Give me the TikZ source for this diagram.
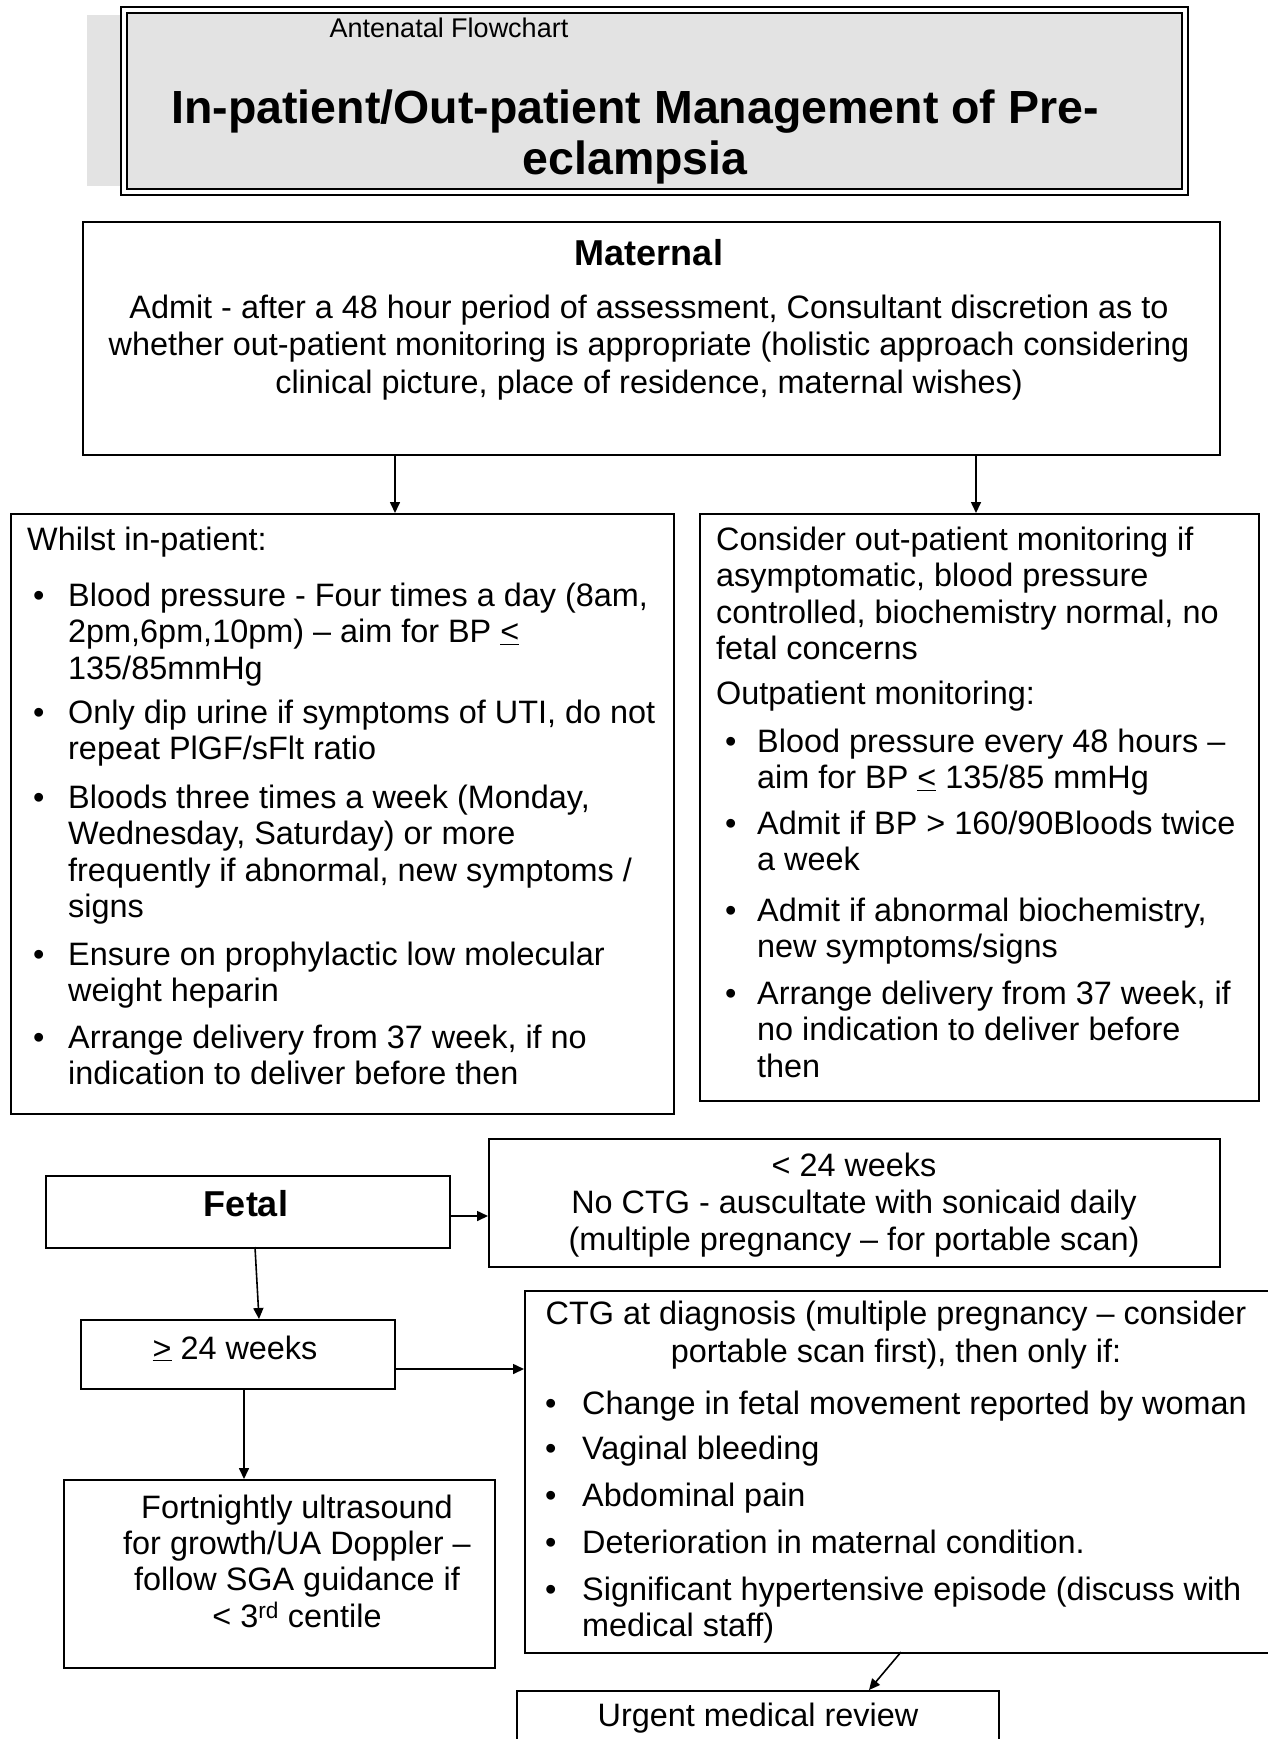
\documentclass[tikz,border=0pt]{standalone}
\usepackage{fontspec}
\setmainfont{Liberation Sans}
\usetikzlibrary{arrows.meta}
\newcommand\bodyfs{\fontsize{32.4}{36.5}\selectfont}
\newcommand\headfs{\fontsize{36}{40}\bfseries\selectfont}
\definecolor{titlegray}{HTML}{E3E3E3}
\tikzset{
  boxnode/.style={draw, line width=1.6pt, inner sep=0pt, anchor=north west, fill=white},
  txt/.style={inner sep=0pt, anchor=north west, align=left, font=\bodyfs},
  ctxt/.style={inner sep=0pt, anchor=north, align=center, font=\bodyfs},
  bul/.style={inner sep=0pt, anchor=north west, font=\bodyfs},
  arr/.style={line width=1.6pt, -{Triangle[length=11pt,width=10pt]}},
}
\begin{document}
\begin{tikzpicture}[x=1pt,y=-1pt]
\useasboundingbox (0,0) rectangle (1268,1739);
\clip (0,0) rectangle (1268,1739);
\fill[white] (0,0) rectangle (1268,1739);
% title block
\fill[titlegray] (87,15) rectangle (125,186);
\node[draw, line width=2pt, fill=white, inner sep=0pt, anchor=north west, minimum width=1067pt, minimum height=188pt] (title) at (120,6) {};
\node[draw, line width=1.6pt, fill=titlegray, inner sep=0pt, minimum width=1055pt, minimum height=176pt] (titlein) at (title.center) {};
\node[inner sep=0pt, anchor=base, font=\fontsize{27}{30}\selectfont] (tsub) at (449,38) {Antenatal Flowchart};
\node[inner sep=0pt, anchor=north, align=center, font=\fontsize{46.5}{51}\bfseries\selectfont] (tmain) at (635,88) {\strut In-patient/Out-patient Management of Pre-\\eclampsia};
% maternal
\node[boxnode, minimum width=1137pt, minimum height=233pt] (maternal) at (82,221) {};
\node[inner sep=0pt, anchor=base, font=\headfs] (mathead) at (649,265) {Maternal};
\node[ctxt, font=\fontsize{32.4}{37.5}\selectfont] (matbody) at (649,292) {\strut Admit - after a 48 hour period of assessment, Consultant discretion as to\\whether out-patient monitoring is appropriate (holistic approach considering\\clinical picture, place of residence, maternal wishes)};
% in-patient
\node[boxnode, minimum width=663pt, minimum height=600pt] (inpat) at (10,513) {};
\node[txt] (in0) at (27,524.5) {\strut Whilst in-patient:};
\node[bul] (inb1) at (33,580.5) {\strut\textbullet};
\node[txt] (in1) at (68,580.5) {\strut Blood pressure - Four times a day (8am,\\2pm,6pm,10pm) -- aim for BP \underline{<}\\135/85mmHg};
\node[bul] (inb2) at (33,697.5) {\strut\textbullet};
\node[txt] (in2) at (68,697.5) {\strut Only dip urine if symptoms of UTI, do not\\repeat PlGF/sFlt ratio};
\node[bul] (inb3) at (33,782.5) {\strut\textbullet};
\node[txt] (in3) at (68,782.5) {\strut Bloods three times a week (Monday,\\Wednesday, Saturday) or more\\frequently if abnormal, new symptoms /\\signs};
\node[bul] (inb4) at (33,939.5) {\strut\textbullet};
\node[txt] (in4) at (68,939.5) {\strut Ensure on prophylactic low molecular\\weight heparin};
\node[bul] (inb5) at (33,1022.5) {\strut\textbullet};
\node[txt] (in5) at (68,1022.5) {\strut Arrange delivery from 37 week, if no\\indication to deliver before then};
% out-patient
\node[boxnode, minimum width=559pt, minimum height=587pt] (outpat) at (699,513) {};
\node[txt] (out0) at (716,524.5) {\strut Consider out-patient monitoring if\\asymptomatic, blood pressure\\controlled, biochemistry normal, no\\fetal concerns};
\node[txt] (out00) at (716,678.5) {\strut Outpatient monitoring:};
\node[bul] (outb1) at (725,726.5) {\strut\textbullet};
\node[txt] (out1) at (757,726.5) {\strut Blood pressure every 48 hours --\\aim for BP \underline{<} 135/85 mmHg};
\node[bul] (outb2) at (725,808.5) {\strut\textbullet};
\node[txt] (out2) at (757,808.5) {\strut Admit if BP > 160/90Bloods twice\\a week};
\node[bul] (outb3) at (725,895.5) {\strut\textbullet};
\node[txt] (out3) at (757,895.5) {\strut Admit if abnormal biochemistry,\\new symptoms/signs};
\node[bul] (outb4) at (725,978.5) {\strut\textbullet};
\node[txt] (out4) at (757,978.5) {\strut Arrange delivery from 37 week, if\\no indication to deliver before\\then};
% fetal
\node[boxnode, minimum width=404pt, minimum height=72pt] (fetal) at (45,1175) {};
\node[inner sep=0pt, anchor=base, font=\headfs] (fetaltxt) at (246,1216) {Fetal};
\node[boxnode, minimum width=731pt, minimum height=128pt] (lt24) at (488,1138) {};
\node[ctxt, font=\fontsize{32.4}{37}\selectfont] (lt24txt) at (854,1150.5) {\strut < 24 weeks\\No CTG - auscultate with sonicaid daily\\(multiple pregnancy -- for portable scan)};
\node[boxnode, minimum width=314pt, minimum height=69pt] (ge24) at (80,1319) {};
\node[inner sep=0pt, anchor=base, font=\bodyfs] (ge24txt) at (235,1359) {\underline{>} 24 weeks};
\node[boxnode, minimum width=766pt, minimum height=362pt] (ctg) at (524,1290) {};
\node[ctxt, font=\fontsize{32.4}{38}\selectfont] (ctg0) at (896,1297.5) {\strut CTG at diagnosis (multiple pregnancy -- consider\\portable scan first), then only if:};
\node[bul] (ctgb1) at (545,1388.5) {\strut\textbullet};
\node[txt] (ctg1) at (582,1388.5) {\strut Change in fetal movement reported by woman};
\node[bul] (ctgb2) at (545,1433.5) {\strut\textbullet};
\node[txt] (ctg2) at (582,1433.5) {\strut Vaginal bleeding};
\node[bul] (ctgb3) at (545,1480.5) {\strut\textbullet};
\node[txt] (ctg3) at (582,1480.5) {\strut Abdominal pain};
\node[bul] (ctgb4) at (545,1527.5) {\strut\textbullet};
\node[txt] (ctg4) at (582,1527.5) {\strut Deterioration in maternal condition.};
\node[bul] (ctgb5) at (545,1574.5) {\strut\textbullet};
\node[txt] (ctg5) at (582,1574.5) {\strut Significant hypertensive episode (discuss with\\medical staff)};
\node[boxnode, minimum width=431pt, minimum height=188pt] (fort) at (63,1479) {};
\node[ctxt, font=\fontsize{32.4}{36.3}\selectfont] (forttxt) at (297,1492.5) {\strut Fortnightly ultrasound\\for growth/UA Doppler --\\follow SGA guidance if\\< 3\textsuperscript{rd} centile};
\node[boxnode, minimum width=482pt, minimum height=90pt] (urgent) at (516,1690) {};
\node[inner sep=0pt, anchor=base, font=\bodyfs] (urgtxt) at (758,1726) {Urgent medical review};
% connectors
\coordinate (m1) at (395,454);
\coordinate (m2) at (976,454);
\draw[arr] (m1) -- (m1 |- inpat.north);
\draw[arr] (m2) -- (m2 |- outpat.north);
\coordinate (f1) at (449,1216);
\draw[arr] (f1) -- (f1 -| lt24.west);
\coordinate (f2) at (255,1247);
\coordinate (f3) at (259,1319);
\draw[arr] (f2) -- (f3);
\coordinate (g1) at (394,1369);
\draw[arr] (g1) -- (g1 -| ctg.west);
\coordinate (g2) at (244,1388);
\draw[arr] (g2) -- (g2 |- fort.north);
\coordinate (c1) at (901,1652);
\coordinate (u1) at (869,1690);
\draw[arr] (c1) -- (u1);
\end{tikzpicture}
\end{document}
